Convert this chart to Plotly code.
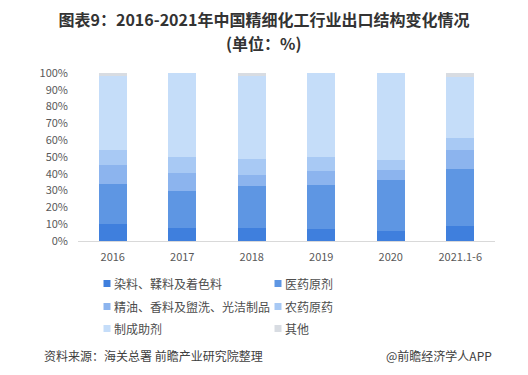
import plotly.graph_objects as go

categories = ["2016", "2017", "2018", "2019", "2020", "2021.1-6"]
series_names = ["染料、鞣料及着色料", "医药原剂", "精油、香料及盥洗、光洁制品", "农药原药", "制成助剂", "其他"]
dye = [10.1, 7.9, 7.9, 7.1, 6.2, 9.1]
pharma = [23.8, 21.9, 24.8, 26.4, 30.3, 34.0]
oils = [11.1, 10.7, 6.4, 8.2, 5.8, 11.1]
pesticide = [9.1, 9.7, 9.7, 8.5, 5.9, 7.1]
additives = [44.3, 49.8, 49.6, 49.8, 51.8, 36.1]
others = [1.6, 0.0, 1.6, 0.0, 0.0, 2.6]
series_values = [dye, pharma, oils, pesticide, additives, others]
colors = ["#3F7FDD", "#5E96E3", "#8CB4EE", "#A8C9F4", "#C5DDF9", "#D8DCE2"]
y_ticks = [0, 10, 20, 30, 40, 50, 60, 70, 80, 90, 100]
y_tick_labels = [f"{v}%" for v in y_ticks]

FONT = "Noto Sans CJK SC, Microsoft YaHei, sans-serif"
W, H = 528, 375
ML, MR, MT, MB = 78, 33, 73, 134
PW, PH = W - ML - MR, H - MT - MB


def px_x(x):
    return (x - ML) / PW


def px_y(y):
    return (H - MB - y) / PH


fig = go.Figure()
for name, vals, col in zip(series_names, series_values, colors):
    fig.add_trace(go.Bar(x=categories, y=vals, name=name, marker=dict(color=col, line=dict(width=0)),
                         width=0.4, showlegend=False))

annotations = []
shapes = []
# manual legend, two columns
col_x = [107, 278]
row_y = [283.5, 306.5, 328.5]
for i, (name, col) in enumerate(zip(series_names, colors)):
    cx = col_x[i % 2]
    cy = row_y[i // 2]
    shapes.append(dict(type="rect", xref="paper", yref="paper",
                       x0=px_x(cx - 3.5), x1=px_x(cx + 3.5), y0=px_y(cy + 3.5), y1=px_y(cy - 3.5),
                       fillcolor=col, line=dict(width=0)))
    annotations.append(dict(text=name, xref="paper", yref="paper", x=px_x(cx + 5), y=px_y(cy),
                            xanchor="left", yanchor="middle", showarrow=False,
                            font=dict(size=12, color="#4D4D4D", family=FONT)))

annotations += [
    dict(text="<b>(单位：%)</b>", xref="paper", yref="paper",
         x=px_x(W / 2), y=px_y(43), xanchor="center", yanchor="middle",
         showarrow=False, font=dict(size=16, color="#333333", family=FONT)),
    dict(text="资料来源：海关总署 前瞻产业研究院整理", xref="paper", yref="paper",
         x=px_x(42), y=px_y(355), xanchor="left", yanchor="middle",
         showarrow=False, font=dict(size=12, color="#404040", family=FONT)),
    dict(text="@前瞻经济学人APP", xref="paper", yref="paper",
         x=px_x(494), y=px_y(355), xanchor="right", yanchor="middle",
         showarrow=False, font=dict(size=12, color="#404040", family=FONT)),
]

fig.update_layout(
    width=W, height=H,
    barmode="stack",
    paper_bgcolor="white", plot_bgcolor="white",
    margin=dict(l=ML, r=MR, t=MT, b=MB),
    font=dict(family=FONT, color="#595959", size=11),
    title=dict(text="<b>图表9：2016-2021年中国精细化工行业出口结构变化情况</b>",
               x=0.5, xref="container", xanchor="center", y=1 - 20 / H, yanchor="middle",
               font=dict(size=16, color="#333333", family=FONT)),
    showlegend=False,
    xaxis=dict(showgrid=False, showline=True, linecolor="#D9D9D9", linewidth=1, ticks="",
               ticklabelstandoff=6, tickfont=dict(size=11, color="#595959")),
    yaxis=dict(range=[0, 100], tickvals=y_ticks, ticktext=y_tick_labels, showgrid=False,
               zeroline=False, showline=False, ticks="", ticklabelstandoff=9,
               tickfont=dict(size=11, color="#595959")),
    annotations=annotations,
    shapes=shapes,
)

fig.write_html("out.html", config={"displayModeBar": False},
               post_script="document.body.style.margin='0';")
